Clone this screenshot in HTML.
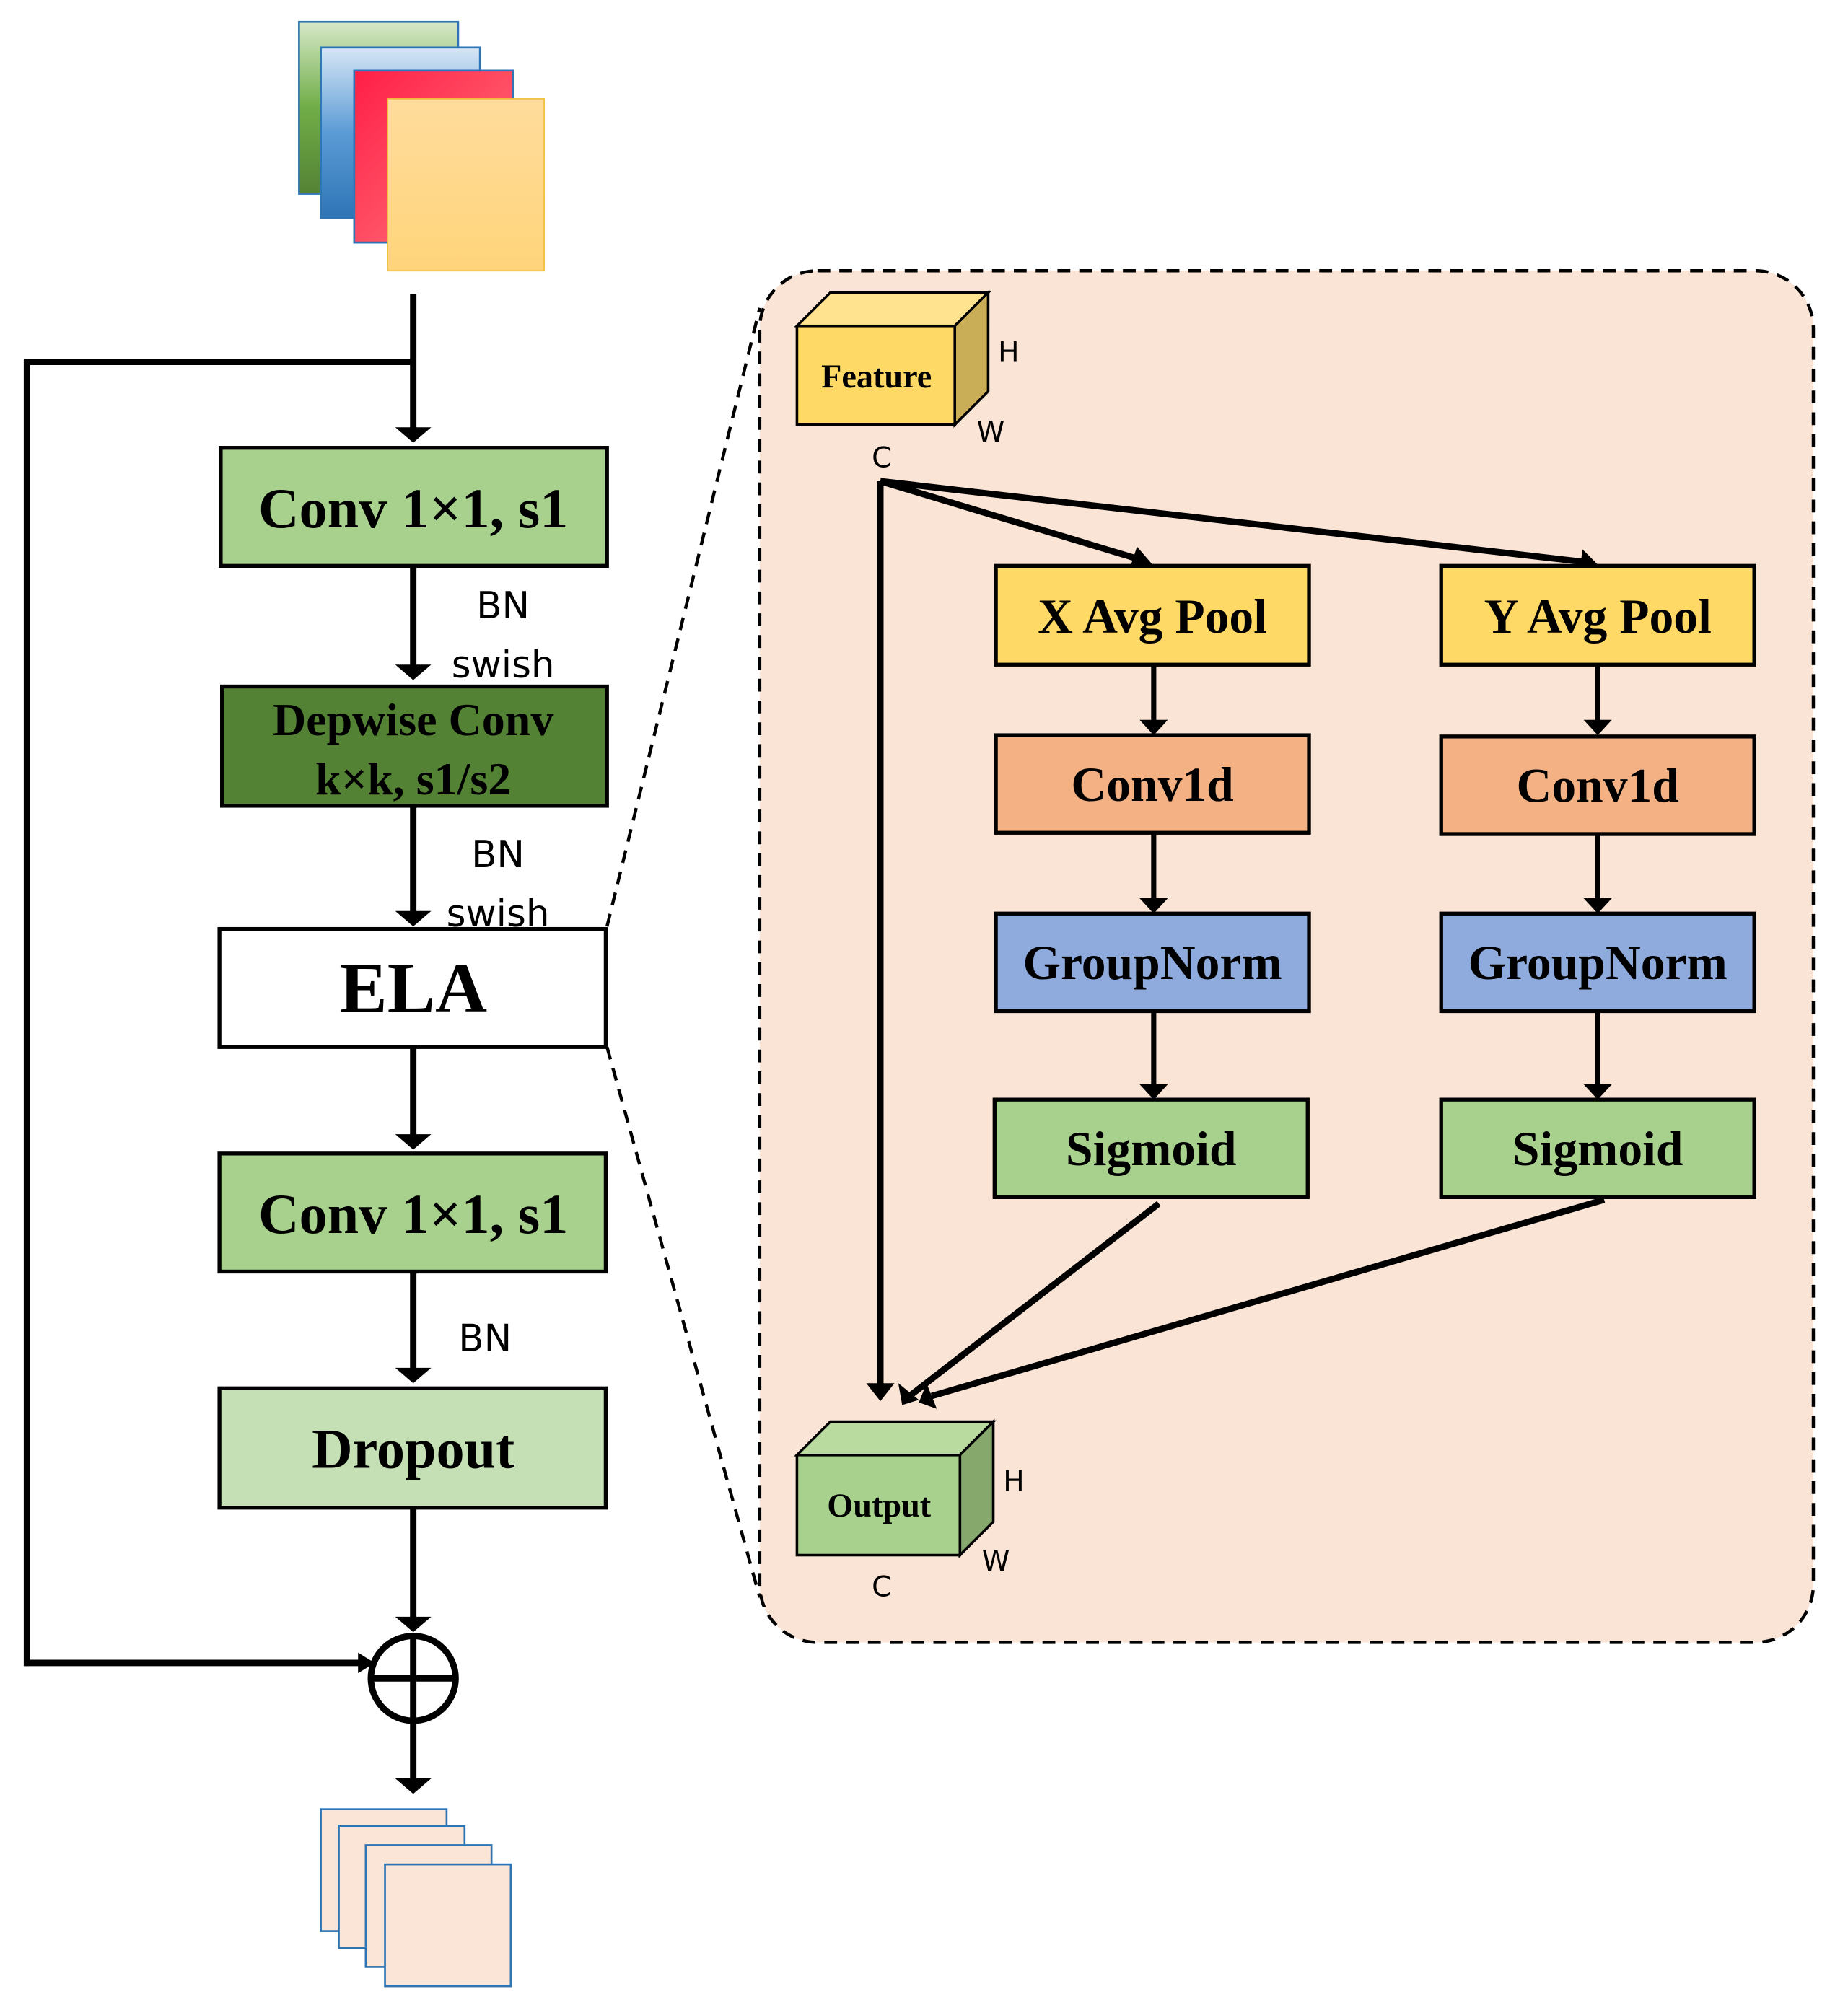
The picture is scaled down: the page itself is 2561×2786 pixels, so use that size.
<!DOCTYPE html>
<html><head><meta charset="utf-8"><style>
html,body{margin:0;padding:0;background:#fff}
svg{display:block}
.b{font-family:"Liberation Serif",serif;font-weight:bold;text-anchor:middle;fill:#000}
.s{font-family:"DejaVu Sans","Liberation Sans",sans-serif;fill:#000}
</style></head><body>
<svg width="2561" height="2786" viewBox="0 0 1440 1566.5" xmlns="http://www.w3.org/2000/svg">
<defs>
<linearGradient id="gg" x1="0" y1="0" x2="0" y2="1"><stop offset="0" stop-color="#d6e8c8"/><stop offset="0.5" stop-color="#70ad47"/><stop offset="1" stop-color="#548235"/></linearGradient>
<linearGradient id="gb" x1="0" y1="0" x2="0" y2="1"><stop offset="0" stop-color="#d6e6f5"/><stop offset="0.5" stop-color="#5b9bd5"/><stop offset="1" stop-color="#2e75b6"/></linearGradient>
<linearGradient id="gr" x1="0" y1="0" x2="1" y2="1"><stop offset="0" stop-color="#ff1e46"/><stop offset="1" stop-color="#ff7a80"/></linearGradient>
<linearGradient id="gy" x1="0" y1="0" x2="0" y2="1"><stop offset="0" stop-color="#ffdc9c"/><stop offset="1" stop-color="#ffd47a"/></linearGradient>
<marker id="a" viewBox="0 0 10 10" refX="9" refY="5" markerWidth="5" markerHeight="5" orient="auto" markerUnits="userSpaceOnUse"><path d="M0,0 L10,5 L0,10 z"/></marker>
</defs>
<style>.ar{stroke:#000;stroke-width:4;fill:none}</style>
<!-- input stack -->
<rect x="233" y="17" width="124" height="134" fill="url(#gg)" stroke="#2e75b6" stroke-width="1.5"/>
<rect x="250" y="37" width="124" height="133" fill="url(#gb)" stroke="#2e75b6" stroke-width="1.5"/>
<rect x="276" y="55" width="124" height="134" fill="url(#gr)" stroke="#2e75b6" stroke-width="1.5"/>
<rect x="302" y="77" width="122" height="134" fill="url(#gy)" stroke="#f0c040" stroke-width="1"/>
<!-- main arrows -->
<path d="M322,229 V335" stroke="#000" stroke-width="5"/><path d="M308,333 L336,333 L322,345z"/>
<path d="M322,282 H21 V1296 H280" stroke="#000" stroke-width="5" fill="none"/><path d="M279,1288 L292,1296 L279,1304z"/>
<rect x="172" y="349" width="301" height="92" fill="#a9d18e" stroke="#000" stroke-width="3"/>
<text class="b" x="322" y="411" font-size="44">Conv 1×1, s1</text>
<path d="M322,441 V520" stroke="#000" stroke-width="5"/><path d="M308,518 L336,518 L322,530z"/>
<text class="s" x="392" y="482" font-size="29" text-anchor="middle">BN</text>
<text class="s" x="392" y="528" font-size="29" text-anchor="middle">swish</text>
<rect x="173" y="535" width="300" height="93" fill="#548235" stroke="#000" stroke-width="3"/>
<text class="b" x="322" y="573" font-size="36">Depwise Conv</text>
<text class="b" x="322" y="619" font-size="36">k×k, s1/s2</text>
<path d="M322,628 V712" stroke="#000" stroke-width="5"/><path d="M308,710 L336,710 L322,722z"/>
<text class="s" x="388" y="676" font-size="29" text-anchor="middle">BN</text>
<text class="s" x="388" y="722" font-size="29" text-anchor="middle">swish</text>
<rect x="171" y="724" width="301" height="92" fill="#fff" stroke="#000" stroke-width="3"/>
<text class="b" x="322" y="789" font-size="56">ELA</text>
<path d="M322,816 V886" stroke="#000" stroke-width="5"/><path d="M308,884 L336,884 L322,896z"/>
<rect x="171" y="899" width="301" height="92" fill="#a9d18e" stroke="#000" stroke-width="3"/>
<text class="b" x="322" y="961" font-size="44">Conv 1×1, s1</text>
<path d="M322,991 V1068" stroke="#000" stroke-width="5"/><path d="M308,1066 L336,1066 L322,1078z"/>
<text class="s" x="378" y="1053" font-size="29" text-anchor="middle">BN</text>
<rect x="171" y="1082" width="301" height="93" fill="#c5e0b4" stroke="#000" stroke-width="3"/>
<text class="b" x="322" y="1144" font-size="44">Dropout</text>
<path d="M322,1175 V1262" stroke="#000" stroke-width="5"/><path d="M308,1260 L336,1260 L322,1272z"/>
<circle cx="322" cy="1308" r="33" fill="none" stroke="#000" stroke-width="5"/>
<path d="M289,1308 H355 M322,1275 V1341" stroke="#000" stroke-width="5"/>
<path d="M322,1341 V1388" stroke="#000" stroke-width="5"/><path d="M308,1386 L336,1386 L322,1398z"/>
<g fill="#fbe5d6" stroke="#2e75b6" stroke-width="1.5">
<rect x="250" y="1410" width="98" height="95"/><rect x="264" y="1423" width="98" height="95"/>
<rect x="285" y="1438" width="98" height="95"/><rect x="300" y="1453" width="98" height="95"/></g>
<!-- panel -->
<rect x="592" y="211" width="821" height="1069" rx="45" fill="#fae4d6" stroke="#000" stroke-width="2.5" stroke-dasharray="10,7"/>
<path d="M473,722 L592,240 M473,816 L592,1245" stroke="#000" stroke-width="2.5" stroke-dasharray="10,7"/>
<!-- feature cube -->
<polygon points="621,254 647,228 770,228 744,254" fill="#ffe38e" stroke="#000" stroke-width="2"/>
<polygon points="744,254 770,228 770,305 744,331" fill="#c9ad57" stroke="#000" stroke-width="2"/>
<rect x="621" y="254" width="123" height="77" fill="#ffd966" stroke="#000" stroke-width="2"/>
<text class="b" x="683" y="302" font-size="26">Feature</text>
<text class="s" x="786" y="282" font-size="22" text-anchor="middle">H</text>
<text class="s" x="772" y="344" font-size="22" text-anchor="middle">W</text>
<text class="s" x="687" y="364" font-size="22" text-anchor="middle">C</text>
<path d="M686,375 V1080" stroke="#000" stroke-width="5"/><path d="M675,1078 L697,1078 L686,1092z"/>
<path d="M686,375 L888,436" stroke="#000" stroke-width="5"/><path d="M886,426 L898,440 L880,444z"/>
<path d="M686,375 L1235,438" stroke="#000" stroke-width="5"/><path d="M1233,428 L1245,440 L1231,447z"/>
<!-- columns -->
<g stroke="#000" stroke-width="3">
<rect x="776" y="441" width="244" height="77" fill="#ffd966"/>
<rect x="1123" y="441" width="244" height="77" fill="#ffd966"/>
<rect x="776" y="573" width="244" height="76" fill="#f4b183"/>
<rect x="1123" y="574" width="244" height="76" fill="#f4b183"/>
<rect x="776" y="712" width="244" height="76" fill="#8faadc"/>
<rect x="1123" y="712" width="244" height="76" fill="#8faadc"/>
<rect x="775" y="857" width="244" height="76" fill="#a9d18e"/>
<rect x="1123" y="857" width="244" height="76" fill="#a9d18e"/>
</g>
<g class="b" font-size="38">
<text x="898" y="493">X Avg Pool</text><text x="1245" y="493">Y Avg Pool</text>
<text x="898" y="624">Conv1d</text><text x="1245" y="625">Conv1d</text>
<text x="898" y="763">GroupNorm</text><text x="1245" y="763">GroupNorm</text>
<text x="897" y="908">Sigmoid</text><text x="1245" y="908">Sigmoid</text>
</g>
<g stroke="#000" stroke-width="4">
<path d="M899,518 V563 M1245,518 V564 M899,649 V702 M1245,650 V702 M899,788 V847 M1245,788 V847"/>
</g>
<g>
<path d="M888,561 L910,561 L899,573z"/><path d="M1234,561 L1256,561 L1245,573z"/>
<path d="M888,700 L910,700 L899,712z"/><path d="M1234,700 L1256,700 L1245,712z"/>
<path d="M888,845 L910,845 L899,857z"/><path d="M1234,845 L1256,845 L1245,857z"/>
</g>
<path d="M903,938 L710,1087" stroke="#000" stroke-width="5"/><path d="M700,1078 L703,1095 L716,1091z"/>
<path d="M1250,935 L726,1088" stroke="#000" stroke-width="5"/><path d="M722,1078 L716,1093 L730,1098z"/>
<!-- output cube -->
<polygon points="621,1134 647,1108 774,1108 748,1134" fill="#b9dba0" stroke="#000" stroke-width="2"/>
<polygon points="748,1134 774,1108 774,1186 748,1212" fill="#86a86c" stroke="#000" stroke-width="2"/>
<rect x="621" y="1134" width="127" height="78" fill="#a9d18e" stroke="#000" stroke-width="2"/>
<text class="b" x="685" y="1182" font-size="26">Output</text>
<text class="s" x="790" y="1162" font-size="22" text-anchor="middle">H</text>
<text class="s" x="776" y="1224" font-size="22" text-anchor="middle">W</text>
<text class="s" x="687" y="1244" font-size="22" text-anchor="middle">C</text>
</svg>
</body></html>
